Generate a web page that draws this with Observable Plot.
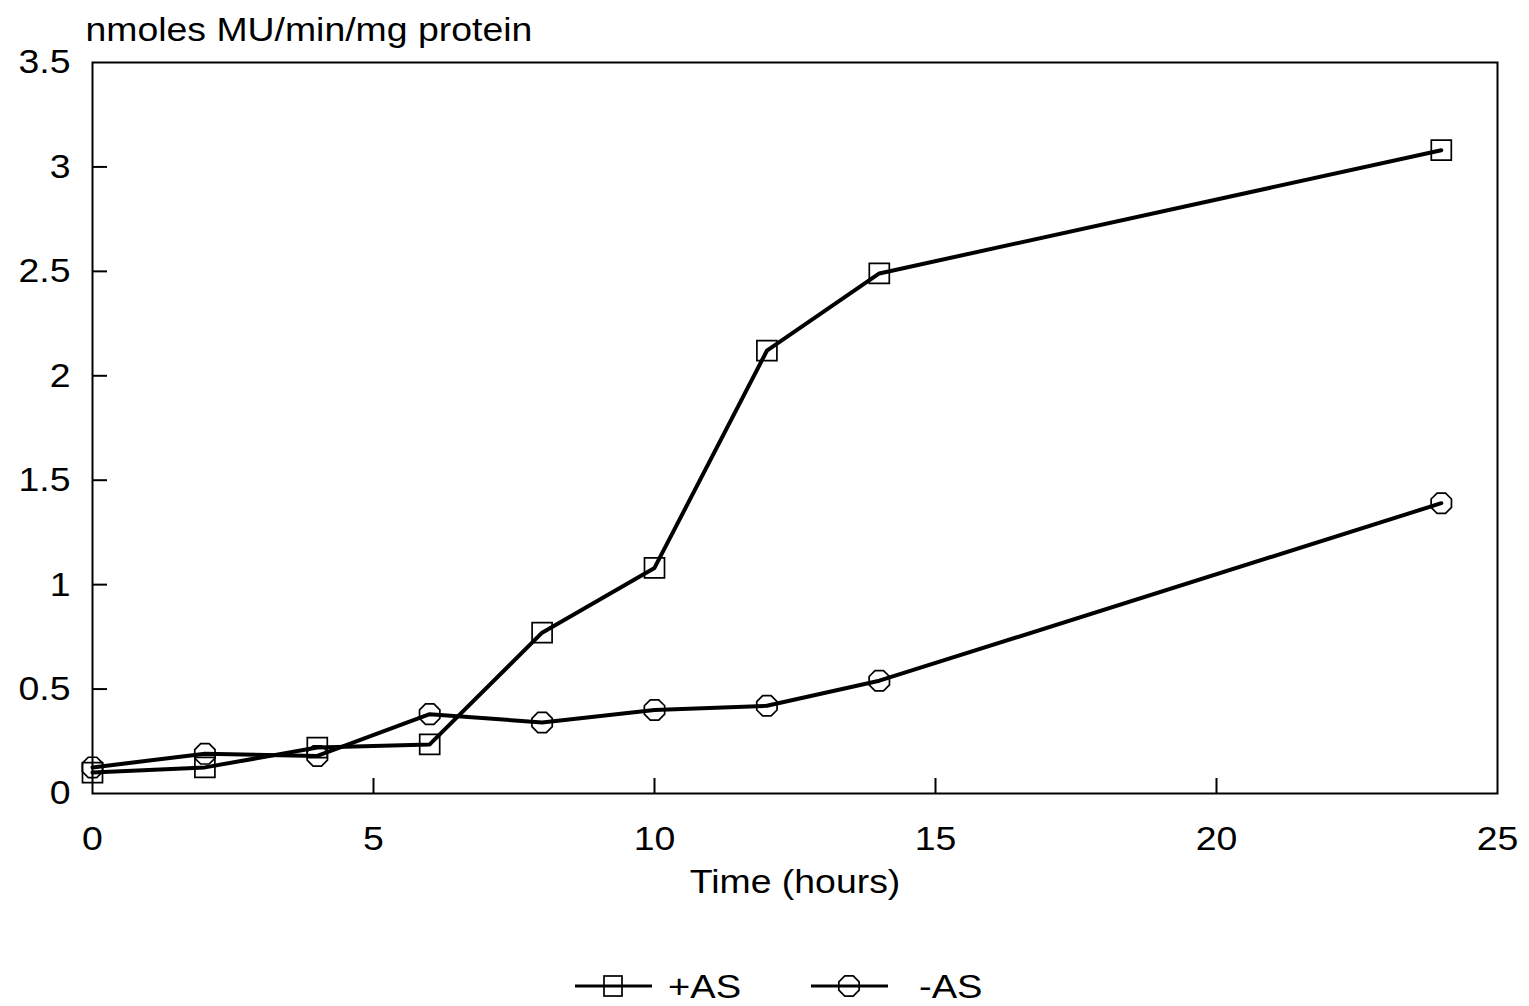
<!DOCTYPE html>
<html>
<head>
<meta charset="utf-8">
<script src="https://cdn.jsdelivr.net/npm/d3@7"></script>
<script src="https://cdn.jsdelivr.net/npm/@observablehq/plot@0.6"></script>
<style>
  html, body { margin: 0; padding: 0; background: #fff; }
  body { font-family: "Liberation Sans", Arial, Helvetica, sans-serif; }
  #legend { display: flex; justify-content: flex-start; align-items: center; height: 52px; margin-top: 50px; font-size: 34px; color: #000; }
  .item { display: flex; align-items: center; }
  .item svg { display: block; }
  .item span { display: inline-block; transform: scaleX(1.12); transform-origin: left center; }
</style>
</head>
<body>
<div id="chart"></div>
<div id="legend"></div>
<script>
// ---- data ----
const hours = [0, 2, 4, 6, 8, 10, 12, 14, 24];
const plusAS = [0.10, 0.125, 0.22, 0.235, 0.77, 1.08, 2.12, 2.49, 3.08];
const minusAS = [0.125, 0.19, 0.18, 0.38, 0.34, 0.40, 0.42, 0.54, 1.39];
const seriesNames = ["+AS", "-AS"];
const xTicks = [0, 5, 10, 15, 20, 25];
const yTicks = [0, 0.5, 1, 1.5, 2, 2.5, 3, 3.5];
const yTitle = "nmoles MU/min/mg protein";
const xTitle = "Time (hours)";

// ---- layout ----
const W = 1529, H = 910;
const mL = 92, mT = 62, mR = 32, mB = H - 793;
const tickLen = 15;
const plotW = W - mL - mR, plotH = H - mT - mB;
const xMax = 25, yMax = 3.5;
const stretch = 1.1;

const rows = [];
hours.forEach((h, i) => {
  rows.push({series: seriesNames[0], x: h, y: plusAS[i]});
  rows.push({series: seriesNames[1], x: h, y: minusAS[i]});
});

const octagon = {draw(ctx, size) {
  const r = Math.sqrt(size / Math.PI);
  for (let k = 0; k < 8; k++) {
    const a = Math.PI / 8 + k * Math.PI / 4;
    const px = r * Math.cos(a), py = r * Math.sin(a);
    if (k === 0) ctx.moveTo(px, py); else ctx.lineTo(px, py);
  }
  ctx.closePath();
}};
const square = {draw(ctx, size) {
  const r = Math.sqrt(size / Math.PI);
  ctx.rect(-r, -r, 2 * r, 2 * r);
}};

const chart = Plot.plot({
  width: W, height: H,
  marginLeft: mL, marginTop: mT, marginRight: mR, marginBottom: mB,
  style: {fontFamily: '"Liberation Sans", Arial, Helvetica, sans-serif', fontSize: "34px", color: "#000", background: "#fff"},
  x: {domain: [0, xMax], axis: null},
  y: {domain: [0, yMax], axis: null},
  marks: [
    Plot.frame({stroke: "#000", strokeWidth: 2}),
    Plot.axisX({ticks: xTicks, tickSize: 0, tickPadding: 32, label: null, tickFormat: d => String(d)}),
    Plot.axisY({ticks: yTicks, tickSize: 0, tickPadding: 22, label: null, tickFormat: d => String(d)}),
    Plot.ruleX(xTicks.filter(t => t > 0 && t < xMax), {x: d => d, y1: 0, y2: yMax * tickLen / plotH, stroke: "#000", strokeWidth: 2}),
    Plot.ruleY(yTicks.filter(t => t > 0 && t < yMax), {y: d => d, x1: 0, x2: xMax * tickLen / plotW, stroke: "#000", strokeWidth: 2}),
    Plot.line(rows, {x: "x", y: "y", z: "series", stroke: "#000", strokeWidth: 4}),
    Plot.dot(rows.filter(d => d.series === "+AS"), {x: "x", y: "y", r: 10, symbol: square, stroke: "#000", strokeWidth: 1.7, fill: "none"}),
    Plot.dot(rows.filter(d => d.series === "-AS"), {x: "x", y: "y", r: 11, symbol: octagon, stroke: "#000", strokeWidth: 1.7, fill: "none"}),
    Plot.text([yTitle], {text: d => d, frameAnchor: "top-left", dx: -7, dy: -22, textAnchor: "start", lineAnchor: "bottom", fill: "#000"}),
    Plot.text([xTitle], {text: d => d, frameAnchor: "bottom", dy: 99, textAnchor: "middle", lineAnchor: "bottom", fill: "#000"})
  ]
});
// widen glyphs slightly to match the reference lettering
chart.querySelectorAll("text").forEach(t => {
  const tr = t.getAttribute("transform");
  if (tr) t.setAttribute("transform", tr + ` scale(${stretch},1)`);
});
document.getElementById("chart").appendChild(chart);

// ---- legend ----
const legend = document.getElementById("legend");
function sym(kind) {
  const shape = kind === "square"
    ? '<rect x="29" y="2" width="18" height="20" fill="none" stroke="#000" stroke-width="1.7"/>'
    : '<polygon points="' + d3.range(8).map(k => { const a = Math.PI/8 + k*Math.PI/4; return (38 + 11*Math.cos(a)).toFixed(2) + "," + (12 + 11*Math.sin(a)).toFixed(2); }).join(" ") + '" fill="none" stroke="#000" stroke-width="1.7"/>';
  return '<svg width="77" height="24" viewBox="0 0 77 24"><line x1="0" y1="12" x2="77" y2="12" stroke="#000" stroke-width="3"/>' + shape + '</svg>';
}
legend.innerHTML =
  '<div class="item" style="margin-left:575px">' + sym("square") + '<span style="margin-left:16px">' + seriesNames[0] + '</span></div>' +
  '<div class="item" style="margin-left:78px">' + sym("octagon") + '<span style="margin-left:31px">' + seriesNames[1] + '</span></div>';
</script>
</body>
</html>
